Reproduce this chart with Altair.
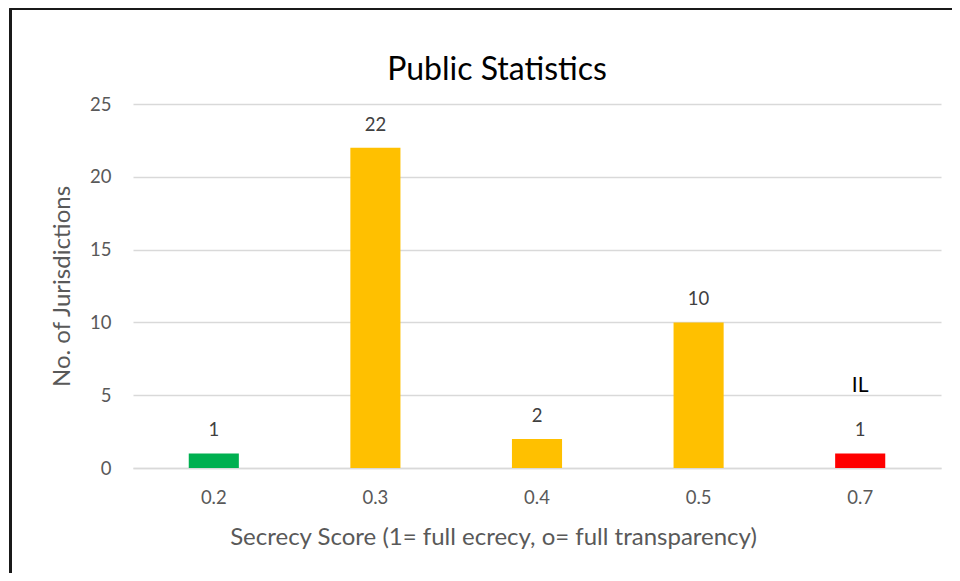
import altair as alt
import pandas as pd

scores = ["0.2", "0.3", "0.4", "0.5", "0.7"]
counts = [1, 22, 2, 10, 1]
bar_colors = ["#00B050", "#FFC000", "#FFC000", "#FFC000", "#FF0000"]
notes = ["", "", "", "", "IL"]

df = pd.DataFrame({"score": scores, "count": counts, "color": bar_colors, "note": notes})

FONT = "Lato"
W, H = 808, 364

x = alt.X("score:N", sort=scores,
          scale=alt.Scale(paddingInner=0.69, paddingOuter=0.345),
          axis=alt.Axis(title="Secrecy Score (1= full ecrecy, o= full transparency)",
                        labelAngle=0, labelFontSize=18.5, labelColor="#595959", labelFont=FONT,
                        labelPadding=20, ticks=False, domainColor="#d9d9d9", domainWidth=1.5,
                        titleFontSize=24, titleFont=FONT, titleColor="#595959", titleFontWeight="normal",
                        titleX=360, titleY=69, titleAlign="center", titleBaseline="middle"))
y = alt.Y("count:Q", scale=alt.Scale(domain=[0, 25]),
          axis=alt.Axis(title="No. of Jurisdictions", values=[0, 5, 10, 15, 20, 25],
                        labelFontSize=18.5, labelColor="#595959", labelFont=FONT, labelPadding=22,
                        ticks=False, domain=False, gridColor="#d9d9d9", gridWidth=1.5,
                        titleFontSize=24, titleFont=FONT, titleColor="#595959", titleFontWeight="normal",
                        titleX=-71, titleY=182, titleAlign="center", titleBaseline="middle", titleAngle=270))

bars = alt.Chart(df).mark_bar().encode(x=x, y=y, color=alt.Color("color:N", scale=None))

labels = alt.Chart(df).mark_text(dy=-13, baseline="bottom", fontSize=18.5, font=FONT,
                                 color="#404040").encode(x=x, y=y, text="count:Q")
note = alt.Chart(df).mark_text(dy=-57, baseline="bottom", fontSize=21, font=FONT,
                               color="#000000").encode(x=x, y=y, text="note:N")

border_top = alt.Chart(df).mark_rule(color="#1a1a1a", strokeWidth=2.5).encode(
    x=alt.value(-122.5), x2=alt.value(W + 200), y=alt.value(-95.5))
border_left = alt.Chart(df).mark_rule(color="#1a1a1a", strokeWidth=2.5).encode(
    x=alt.value(-122.5), y=alt.value(-95.5), y2=alt.value(H + 200))

chart = alt.layer(bars, labels, note, border_top, border_left).properties(
    width=W, height=H,
    title=alt.TitleParams("Public Statistics", fontSize=32, font=FONT, color="#000000",
                          fontWeight="normal", anchor="middle", dx=-40, dy=100, offset=20),
    autosize=alt.AutoSizeParams(type="none"),
    padding={"left": 125, "top": 96, "right": 11, "bottom": 105},
).configure_view(stroke=None)

chart.save("out.html", embed_options={"renderer": "svg", "actions": False})
